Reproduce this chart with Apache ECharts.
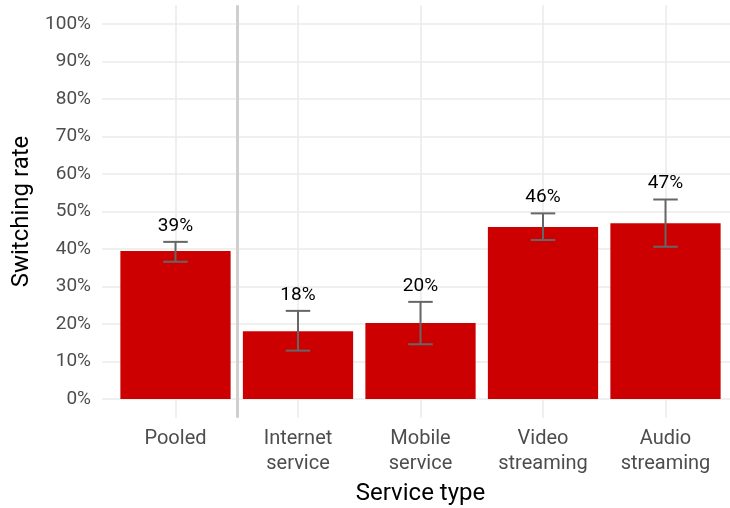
<!DOCTYPE html>
<html>
<head>
<meta charset="utf-8">
<script src="https://cdn.jsdelivr.net/npm/echarts@6/dist/echarts.min.js"></script>
<style>
html,body{margin:0;padding:0;background:#fff;}
#chart{width:730px;height:508px;}
</style>
</head>
<body>
<div id="chart"></div>
<script>
const categories = ['Pooled', 'Internet\nservice', 'Mobile\nservice', 'Video\nstreaming', 'Audio\nstreaming'];
const xPositions = [1, 2, 3, 4, 5];
const rates = [39.5, 18.1, 20.3, 45.9, 46.9];
const lower = [36.6, 12.9, 14.6, 42.4, 40.6];
const upper = [41.9, 23.5, 25.9, 49.5, 53.2];
const rateLabels = ['39%', '18%', '20%', '46%', '47%'];
const yTicks = [0, 10, 20, 30, 40, 50, 60, 70, 80, 90, 100];
const dividerAt = 1.5;

const FONT = 'Roboto';
const chart = echarts.init(document.getElementById('chart'), null, {renderer: 'canvas'});

const barData = xPositions.map((x, i) => [x, rates[i]]);
const errData = xPositions.map((x, i) => [x, lower[i], upper[i], i]);

const gridLines = [];
yTicks.forEach(v => gridLines.push({yAxis: v, lineStyle: {color: '#ebebeb', width: 1.6, type: 'solid'}}));
xPositions.forEach(v => gridLines.push({xAxis: v, lineStyle: {color: '#ebebeb', width: 1.6, type: 'solid'}}));
gridLines.push({xAxis: dividerAt, lineStyle: {color: '#cfcfcf', width: 3, type: 'solid'}});

const option = {
  animation: false,
  backgroundColor: '#ffffff',
  textStyle: {fontFamily: FONT},
  grid: {left: 102, width: 637, top: 5.25, height: 412.5, containLabel: false, outerBoundsMode: 'none'},
  xAxis: {
    type: 'value',
    min: 0.4,
    max: 5.6,
    name: 'Service type',
    nameLocation: 'middle',
    nameGap: 61,
    nameTextStyle: {fontFamily: FONT, fontSize: 24, color: '#000000'},
    axisLine: {show: false},
    axisTick: {show: false},
    splitLine: {show: false},
    axisLabel: {
      customValues: xPositions,
      formatter: v => categories[Math.round(v) - 1] || '',
      fontFamily: FONT,
      fontSize: 20,
      lineHeight: 25,
      color: '#4d4d4d',
      margin: 9
    }
  },
  yAxis: {
    type: 'value',
    min: -5,
    max: 105,
    name: 'Switching rate',
    nameLocation: 'middle',
    nameGap: 66,
    nameTextStyle: {fontFamily: FONT, fontSize: 24, color: '#000000'},
    axisLine: {show: false},
    axisTick: {show: false},
    splitLine: {show: false},
    axisLabel: {
      customValues: yTicks,
      formatter: v => v + '%',
      fontFamily: FONT,
      fontSize: 19,
      color: '#4d4d4d',
      margin: 11
    }
  },
  series: [
    {
      type: 'line',
      data: [],
      z: 1,
      silent: true,
      markLine: {
        silent: true,
        z: 1,
        symbol: ['none', 'none'],
        label: {show: false},
        emphasis: {disabled: true},
        data: gridLines
      }
    },
    {
      type: 'bar',
      data: barData,
      barWidth: '90%',
      z: 2,
      itemStyle: {color: '#cc0000'},
      silent: true
    },
    {
      type: 'custom',
      z: 3,
      silent: true,
      data: errData,
      renderItem: function (params, api) {
        const x = api.value(0);
        const lo = api.coord([x, api.value(1)]);
        const hi = api.coord([x, api.value(2)]);
        const half = api.size([1, 0])[0] * 0.1;
        const idx = api.value(3);
        const style = {stroke: '#666666', lineWidth: 2};
        return {
          type: 'group',
          children: [
            {type: 'line', shape: {x1: hi[0], y1: hi[1], x2: lo[0], y2: lo[1]}, style: style},
            {type: 'line', shape: {x1: hi[0] - half, y1: hi[1], x2: hi[0] + half, y2: hi[1]}, style: style},
            {type: 'line', shape: {x1: lo[0] - half, y1: lo[1], x2: lo[0] + half, y2: lo[1]}, style: style},
            {type: 'text', x: hi[0], y: hi[1] - 16, style: {
              text: rateLabels[idx], fontFamily: FONT, fontSize: 19, fill: '#000000',
              align: 'center', verticalAlign: 'middle'
            }}
          ]
        };
      }
    }
  ]
};
chart.setOption(option);
</script>
</body>
</html>
